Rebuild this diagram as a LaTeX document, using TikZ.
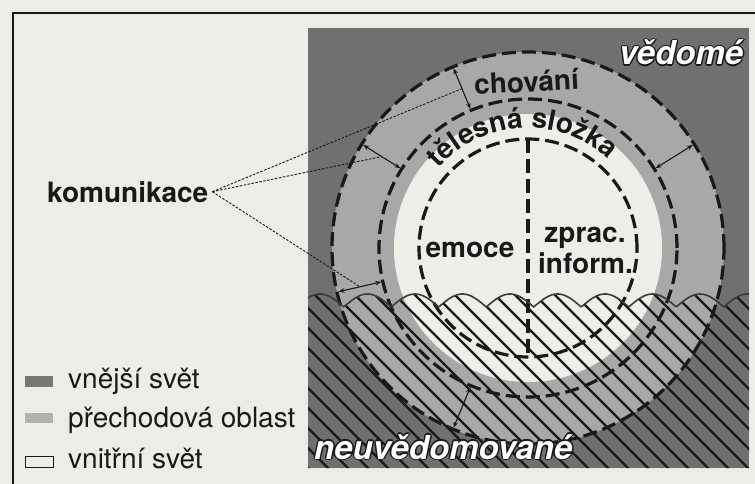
\documentclass[tikz,border=0pt]{standalone}
\usepackage{fontspec}
\setmainfont{TeX Gyre Heros}
\usetikzlibrary{arrows.meta,calc,decorations.text}
\definecolor{paper}{RGB}{238,236,230}
\definecolor{darkg}{RGB}{112,112,112}
\definecolor{lightg}{RGB}{168,168,168}
\definecolor{innerw}{RGB}{238,237,232}
\definecolor{ink}{RGB}{25,25,25}
\newcommand\outlinedtext[4]{%
  \foreach \i in {1,...,8} \node[outl, text=ink] (#1o\i) at ($(#2,#3)+({\i*45}:1.4pt)$) {#4};
  \node[outl, text=white] (#1) at (#2,#3) {#4};
}
\begin{document}
\begin{tikzpicture}[x=1pt,y=-1pt,
  circ/.style={ink, line width=3.2pt, dash pattern=on 14pt off 6pt},
  dbl/.style={ink, line width=1.1pt, shorten <=1.5pt, shorten >=1.5pt,
    {Stealth[length=6pt,width=4.5pt]}-{Stealth[length=6pt,width=4.5pt]}},
  conn/.style={ink, line width=0.9pt, dash pattern=on 2.5pt off 1.5pt},
  hatch/.style={ink, line width=2.3pt},
  boldtxt/.style={font=\fontsize{28}{31}\selectfont\bfseries, text=ink, inner sep=0pt},
  leg/.style={font=\fontsize{28}{30}\selectfont, text=ink, inner sep=0pt, anchor=base west},
  outl/.style={font=\fontsize{33}{35}\selectfont\bfseries\itshape, inner sep=0pt, anchor=base west},
]
\useasboundingbox (0,0) rectangle (755,484);
\fill[paper] (0,0) rectangle (755,484);
\draw[ink, line width=2pt] (13,490) -- (13,13) -- (760,13);
\coordinate (c) at (528,248);
% regions
\fill[darkg] (308,28) rectangle (749,468);
\fill[lightg] (c) circle[radius=196pt];
\fill[innerw] (c) circle[radius=134pt];
% hatching below the wave
\begin{scope}
\clip plot[domain=308:749,samples=300] (\x,{294+13*(1-abs(cos(180/47.5*(\x-320))))}) -- (749,468) -- (308,468) -- cycle;
\foreach \k in {-9,...,24} \draw[hatch] ({20*\k+280},280) -- ++(200,200);
\end{scope}
% dashed circles
\draw[circ] (c) circle[radius=196pt];
\draw[circ] (c) circle[radius=149pt];
\draw[circ] (c) circle[radius=109pt];
\draw[circ] ($(c)+(0,-109)$) -- ($(c)+(0,109)$);
% wave
\draw[ink!85, line width=1.6pt] plot[domain=308:749,samples=300] (\x,{294+13*(1-abs(cos(180/47.5*(\x-320))))});
% arrows
\foreach \n/\a in {1/112.5, 2/148, 3/32, 4/193, 5/247.5} {
  \coordinate (o\n) at ($(c)+(\a:196pt)$);
  \coordinate (i\n) at ($(c)+(\a:149pt)$);
  \coordinate (m\n) at ($(c)+(\a:172.5pt)$);
  \draw[dbl] (i\n) -- (o\n);
}
% texts
\node[boldtxt, anchor=base west, outer xsep=4pt] (kom) at (43,202) {komunikace};
\draw[conn] (kom.east) -- (m1);
\draw[conn] (kom.east) -- (m2);
\draw[conn] (kom.east) -- (m4);
\node[boldtxt, anchor=base, rotate=3] (chov) at (527,92) {chování};
\path[decorate, decoration={text along path, text align=center,
  text={|\fontsize{28}{31}\selectfont\bfseries\color{ink}|tělesná složka}}]
  ($(c)+(153:120pt)$) arc[start angle=153, end angle=33, radius=120pt];
\node[boldtxt, anchor=base] (emo) at (470,257) {emoce};
\node[boldtxt, anchor=base] (zpr) at (585,242) {zprac.};
\node[boldtxt, anchor=base] (inf) at (585.5,273) {inform.};
\outlinedtext{ved}{619}{65}{vědomé}
\outlinedtext{neuv}{314}{459}{neuvědomované}
% legend
\fill[darkg!95] (25,376) rectangle (53,387);
\fill[lightg!90] (25,413) rectangle (53,423);
\draw[ink, line width=1pt, fill=innerw] (25,456) rectangle (53,467);
\node[leg] (l1) at (68,388) {vnější svět};
\node[leg] (l2) at (68,427) {přechodová oblast};
\node[leg] (l3) at (68,468) {vnitřní svět};
\end{tikzpicture}
\end{document}
